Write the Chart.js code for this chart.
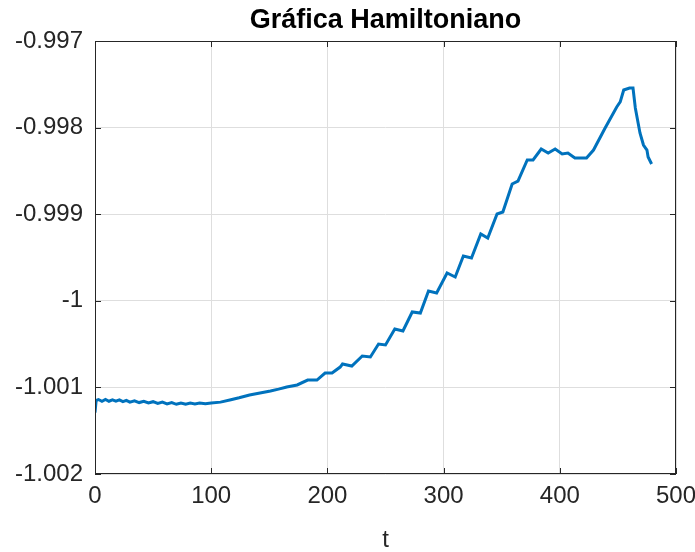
<!DOCTYPE html>
<html>
<head>
<meta charset="utf-8">
<script src="https://cdn.jsdelivr.net/npm/chart.js@4/dist/chart.umd.min.js"></script>
<style>
  html, body { margin: 0; padding: 0; background: #fff; }
  #wrap { width: 695px; height: 552px; }
</style>
</head>
<body>
<div id="wrap"><canvas id="hamChart" width="695" height="552"></canvas></div>
<script>
// time samples
const tVals = [
  0, 1, 3, 6, 9, 12, 15, 18, 21, 24, 27, 30, 34, 38, 42, 46, 50, 54, 58, 62,
  66, 70, 74, 78, 82, 86, 90, 95, 100, 108, 116, 124, 133, 142, 151, 158, 165,
  174, 183, 191, 198, 204, 211, 213, 221, 230, 237, 244, 250, 258, 265, 273,
  280, 287, 294, 303, 310, 317, 324, 332, 338, 346, 351, 359, 364, 372, 377,
  384, 390, 396, 402, 407, 413, 423, 429, 439, 449, 452, 455, 460, 463, 465,
  469, 472, 475, 476, 479
];
// Hamiltonian values
const hVals = [
  -1.00129, -1.00115, -1.00114, -1.00116, -1.00114, -1.00116, -1.001145, -1.00116, -1.001145, -1.001165,
  -1.00115, -1.00117, -1.001155, -1.001175, -1.00116, -1.00118, -1.001165, -1.001185, -1.00117, -1.00119,
  -1.001175, -1.001195, -1.00118, -1.001195, -1.00118, -1.00119, -1.00118, -1.00119, -1.00118, -1.00117,
  -1.001145, -1.00112, -1.001088, -1.001065, -1.001042, -1.00102, -1.000995, -1.000972, -1.000915,
  -1.000915, -1.000834, -1.000834, -1.000765, -1.00073, -1.000753, -1.000637, -1.000649, -1.000499,
  -1.00051, -1.000326, -1.000349, -1.000129, -1.000141, -0.999887, -0.99991, -0.999679, -0.999725,
  -0.999483, -0.999506, -0.999229, -0.999275, -0.998998, -0.998975, -0.998651, -0.998617, -0.998374,
  -0.998374, -0.998247, -0.998293, -0.998247, -0.998305, -0.998293, -0.998351, -0.998351, -0.998259,
  -0.998005, -0.997762, -0.997704, -0.997566, -0.997543, -0.997543, -0.997774, -0.998062, -0.998201,
  -0.998259, -0.998339, -0.99842
];
const xTicks = [0, 100, 200, 300, 400, 500];
const yTicks = [-1.002, -1.001, -1, -0.999, -0.998, -0.997];
const titleText = "Gráfica Hamiltoniano";

const points = tVals.map((t, i) => ({ x: t, y: hVals[i] }));
const axisColor = "#262626";
const fontFamily = "'Liberation Sans', Arial, sans-serif";

// MATLAB-like box with inward ticks, title centred over the axes
const boxPlugin = {
  id: "boxPlugin",
  afterDraw(chart) {
    const { ctx, chartArea: a, scales } = chart;
    ctx.save();
    ctx.strokeStyle = axisColor;
    ctx.lineWidth = 1;
    ctx.strokeRect(a.left + 0.5, a.top + 0.5, a.right - a.left - 1, a.bottom - a.top - 1);
    ctx.beginPath();
    xTicks.forEach((v) => {
      const px = Math.round(scales.x.getPixelForValue(v)) + 0.5;
      ctx.moveTo(px, a.bottom); ctx.lineTo(px, a.bottom - 6);
      ctx.moveTo(px, a.top); ctx.lineTo(px, a.top + 6);
    });
    yTicks.forEach((v) => {
      const py = Math.round(scales.y.getPixelForValue(v)) + 0.5;
      ctx.moveTo(a.left, py); ctx.lineTo(a.left + 6, py);
      ctx.moveTo(a.right, py); ctx.lineTo(a.right - 6, py);
    });
    ctx.stroke();

    ctx.fillStyle = "#000";
    ctx.font = "bold 27px " + fontFamily;
    ctx.textAlign = "center";
    ctx.textBaseline = "alphabetic";
    ctx.fillText(titleText, (a.left + a.right) / 2, 28);
    ctx.restore();
  },
};

new Chart(document.getElementById("hamChart").getContext("2d"), {
  type: "scatter",
  data: {
    datasets: [
      {
        label: "H",
        data: points,
        showLine: true,
        borderColor: "#0072BD",
        borderWidth: 3,
        pointRadius: 0,
        tension: 0,
      },
    ],
  },
  options: {
    responsive: false,
    animation: false,
    layout: { padding: { left: 0, right: 19, top: 41, bottom: 0 } },
    plugins: {
      legend: { display: false },
      tooltip: { enabled: false },
      title: { display: false },
    },
    scales: {
      x: {
        type: "linear",
        min: 0,
        max: 500,
        afterBuildTicks: (s) => { s.ticks = xTicks.map((v) => ({ value: v })); },
        afterFit: (s) => { s.height = 78; s.paddingRight = 0; s.paddingLeft = 0; },
        ticks: { color: axisColor, font: { family: fontFamily, size: 24 }, padding: 8 },
        grid: { color: "#dedede", drawTicks: false },
        border: { display: false },
        title: {
          display: true,
          text: "t",
          color: axisColor,
          font: { family: fontFamily, size: 24, lineHeight: 1.0 },
          padding: { top: 0, bottom: 0 },
        },
      },
      y: {
        type: "linear",
        min: -1.002,
        max: -0.997,
        afterBuildTicks: (s) => { s.ticks = yTicks.map((v) => ({ value: v })); },
        afterFit: (s) => { s.width = 95; s.paddingTop = 0; s.paddingBottom = 0; },
        ticks: {
          color: axisColor,
          font: { family: fontFamily, size: 24 },
          padding: 12,
          callback: (v) => String(Math.round(v * 1000) / 1000),
        },
        grid: { color: "#dedede", drawTicks: false },
        border: { display: false },
      },
    },
  },
  plugins: [boxPlugin],
});
</script>
</body>
</html>
